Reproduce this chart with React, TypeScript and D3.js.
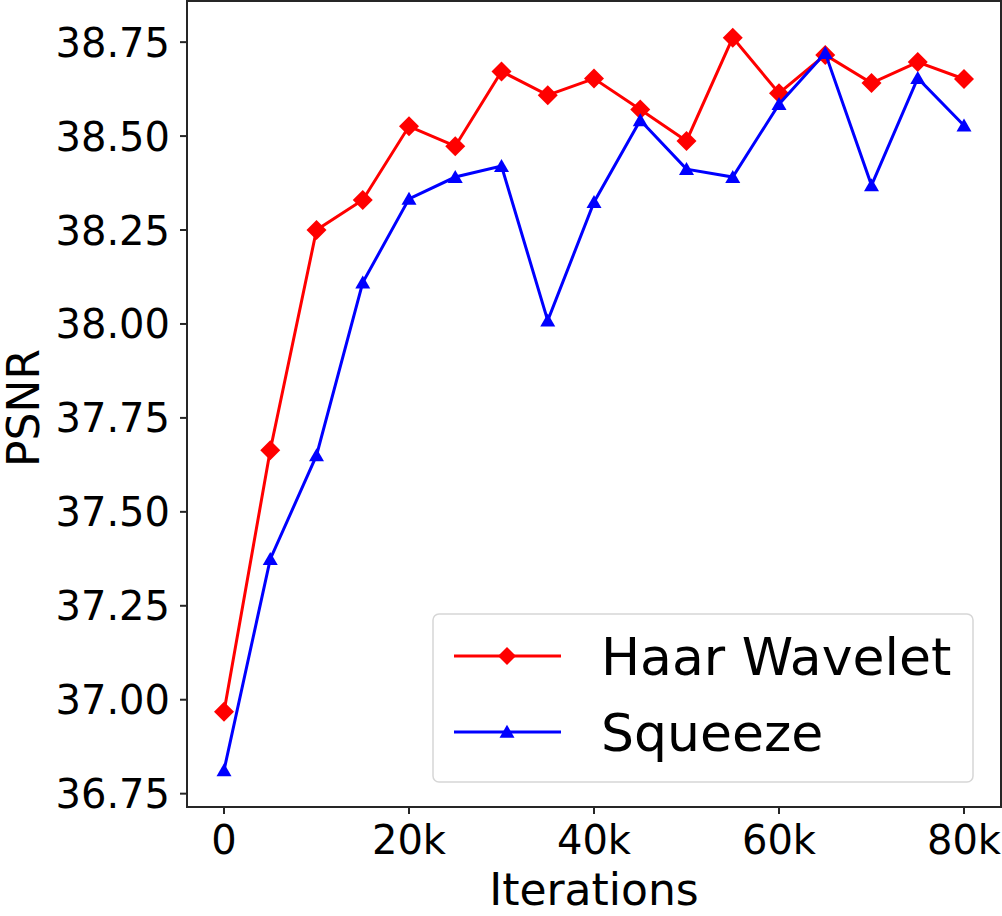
import React from 'react';
import * as d3 from 'd3';

const iterations = [0, 5000, 10000, 15000, 20000, 25000, 30000, 35000, 40000, 45000, 50000, 55000, 60000, 65000, 70000, 75000, 80000];
const haarWavelet = [36.968, 37.664, 38.25, 38.33, 38.526, 38.473, 38.672, 38.609, 38.653, 38.571, 38.487, 38.762, 38.614, 38.716, 38.641, 38.697, 38.652];
const squeeze = [36.812, 37.374, 37.65, 38.11, 38.333, 38.391, 38.42, 38.009, 38.324, 38.542, 38.412, 38.391, 38.585, 38.721, 38.369, 38.654, 38.528];
const yTicks = [36.75, 37.0, 37.25, 37.5, 37.75, 38.0, 38.25, 38.5, 38.75];
const xTicks = [0, 20000, 40000, 60000, 80000];

const W = 1002;
const H = 916;
const plot = { left: 187, right: 1001, top: 1, bottom: 807 };
const font = 'DejaVu Sans, sans-serif';

export default function App() {
  // matplotlib-style 5% margins around the data
  const xMin = d3.min(iterations)!, xMax = d3.max(iterations)!;
  const all = haarWavelet.concat(squeeze);
  const yMin = d3.min(all)!, yMax = d3.max(all)!;
  const xPad = (xMax - xMin) * 0.05;
  const yPad = (yMax - yMin) * 0.05;

  const x = d3.scaleLinear().domain([xMin - xPad, xMax + xPad]).range([plot.left, plot.right]);
  const y = d3.scaleLinear().domain([yMin - yPad, yMax + yPad]).range([plot.bottom, plot.top]);

  const line = d3.line<number>().x((_, i) => x(iterations[i])).y(d => y(d));

  const diamond = (cx: number, cy: number, r: number) =>
    `M${cx},${cy - r}L${cx + r},${cy}L${cx},${cy + r}L${cx - r},${cy}Z`;
  const triangle = (cx: number, cy: number, w: number, h: number) =>
    `M${cx},${cy - h * 0.55}L${cx + w / 2},${cy + h * 0.45}L${cx - w / 2},${cy + h * 0.45}Z`;

  const xFmt = (v: number) => (v === 0 ? '0' : `${v / 1000}k`);

  const legend = { x: 433, y: 614, w: 540, h: 168 };

  return (
    <svg width={W} height={H} style={{ position: 'absolute', left: 0, top: 0, background: '#fff' }} fontFamily={font}>
      <rect x={0} y={0} width={W} height={H} fill="#fff" />

      {/* series */}
      <path d={line(haarWavelet) || ''} fill="none" stroke="#ff0000" strokeWidth={3} />
      {haarWavelet.map((v, i) => (
        <path key={`h${i}`} d={diamond(x(iterations[i]), y(v), 10)} fill="#ff0000" />
      ))}
      <path d={line(squeeze) || ''} fill="none" stroke="#0000ff" strokeWidth={3} />
      {squeeze.map((v, i) => (
        <path key={`s${i}`} d={triangle(x(iterations[i]), y(v), 15, 13)} fill="#0000ff" />
      ))}

      {/* spines */}
      <rect x={plot.left} y={plot.top} width={plot.right - plot.left} height={plot.bottom - plot.top}
        fill="none" stroke="#262626" strokeWidth={2} />

      {/* y axis */}
      {yTicks.map(t => (
        <g key={`y${t}`}>
          <line x1={plot.left - 7} x2={plot.left} y1={y(t)} y2={y(t)} stroke="#262626" strokeWidth={2} />
          <text x={170} y={y(t) + 14.5} textAnchor="end" fontSize={40} fill="#000">{t.toFixed(2)}</text>
        </g>
      ))}

      {/* x axis */}
      {xTicks.map(t => (
        <g key={`x${t}`}>
          <line x1={x(t)} x2={x(t)} y1={plot.bottom} y2={plot.bottom + 7} stroke="#262626" strokeWidth={2} />
          <text x={x(t)} y={854} textAnchor="middle" fontSize={40} fill="#000">{xFmt(t)}</text>
        </g>
      ))}

      <text x={(plot.left + plot.right) / 2} y={905} textAnchor="middle" fontSize={44} fill="#000">Iterations</text>
      <text transform="translate(39,408) rotate(-90)" textAnchor="middle" fontSize={44} fill="#000">PSNR</text>

      {/* legend */}
      <rect x={legend.x} y={legend.y} width={legend.w} height={legend.h} rx={6} fill="#fff" fillOpacity={0.8}
        stroke="#d6d6d6" strokeWidth={1.5} />
      <line x1={454} x2={561} y1={656} y2={656} stroke="#ff0000" strokeWidth={3} />
      <path d={diamond(507, 656, 9)} fill="#ff0000" />
      <text x={601} y={675} fontSize={52} fill="#000">Haar Wavelet</text>
      <line x1={454} x2={561} y1={732} y2={732} stroke="#0000ff" strokeWidth={3} />
      <path d={triangle(507, 732, 15, 13)} fill="#0000ff" />
      <text x={601} y={751} fontSize={52} fill="#000">Squeeze</text>
    </svg>
  );
}
